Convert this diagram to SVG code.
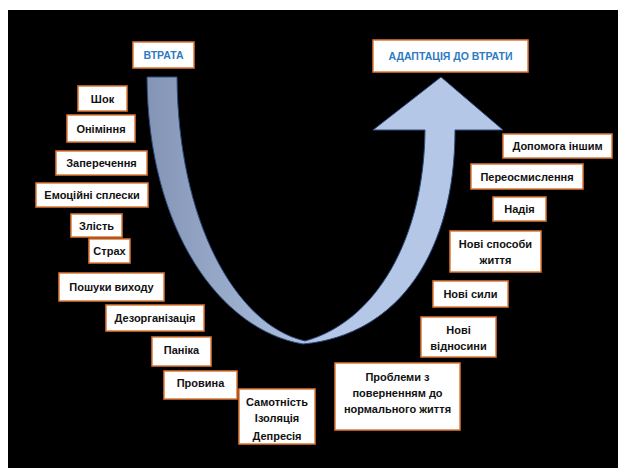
<svg xmlns="http://www.w3.org/2000/svg" width="618" height="468" viewBox="0 0 618 468">
<defs>
<linearGradient id="band" gradientUnits="userSpaceOnUse" x1="147" y1="0" x2="330" y2="0">
<stop offset="0" stop-color="#8394B4"/>
<stop offset="1" stop-color="#B4C7E7"/>
</linearGradient>
</defs>
<style>
.box{fill:#FFFFFF;stroke:#E07A36;stroke-width:1.5}
.t{font-family:"Liberation Sans",Arial,sans-serif;font-weight:bold;font-size:11px;fill:#111111;text-anchor:middle}
.h{font-family:"Liberation Sans",Arial,sans-serif;font-weight:bold;font-size:10.5px;fill:#2E7BC4;text-anchor:middle}
</style>
<rect x="0" y="0" width="618" height="468" fill="#FFFFFF"/>
<rect x="8" y="10" width="610" height="458" fill="#000000"/>
<g id="connectors">
<path d="M147,77 C148,230 220,330 303,344 C400,335 455,250 455,130 L503,130 L441,77 L373,130 L425,130 C424,240 375,322 305,341 C235,325 178,220 177,77 Z" fill="url(#band)" stroke="#2E4A7D" stroke-width="1"/>
</g>
<g id="n-vtrata"><rect class="box" x="133" y="42" width="61" height="26"/><text class="h" x="163.5" y="59">ВТРАТА</text></g>
<g id="n-adapt"><rect class="box" x="373" y="40" width="155" height="32"/><text class="h" x="450.5" y="60">АДАПТАЦІЯ ДО ВТРАТИ</text></g>
<g id="n-shok"><rect class="box" x="78" y="86" width="49" height="25"/><text class="t" x="102.5" y="102.5">Шок</text></g>
<g id="n-onim"><rect class="box" x="67" y="115" width="68" height="27"/><text class="t" x="101" y="132.5">Оніміння</text></g>
<g id="n-zaper"><rect class="box" x="56" y="151" width="91" height="24"/><text class="t" x="101.5" y="167">Заперечення</text></g>
<g id="n-emoc"><rect class="box" x="36" y="183" width="112" height="24"/><text class="t" x="92" y="199">Емоційні сплески</text></g>
<g id="n-zlist"><rect class="box" x="71" y="214" width="51" height="23"/><text class="t" x="96.5" y="229.5">Злість</text></g>
<g id="n-strah"><rect class="box" x="89" y="239" width="41" height="24"/><text class="t" x="109.5" y="255">Страх</text></g>
<g id="n-poshuk"><rect class="box" x="59" y="273" width="105" height="28"/><text class="t" x="111.5" y="291">Пошуки виходу</text></g>
<g id="n-dezorg"><rect class="box" x="106" y="305" width="98" height="26"/><text class="t" x="155" y="322">Дезорганізація</text></g>
<g id="n-panika"><rect class="box" x="152" y="337" width="59" height="29"/><text class="t" x="181.5" y="354">Паніка</text></g>
<g id="n-provyna"><rect class="box" x="164" y="371" width="73" height="28"/><text class="t" x="200.5" y="387">Провина</text></g>
<g id="n-samot"><rect class="box" x="239" y="389" width="76" height="55"/><text class="t" x="277" y="406">Самотність</text><text class="t" x="277" y="422">Ізоляція</text><text class="t" x="277" y="440">Депресія</text></g>
<g id="n-dopomoga"><rect class="box" x="503" y="134" width="109" height="24"/><text class="t" x="557.5" y="150">Допомога іншим</text></g>
<g id="n-pereos"><rect class="box" x="471" y="164" width="112" height="25"/><text class="t" x="527" y="180.5">Переосмислення</text></g>
<g id="n-nadiya"><rect class="box" x="493" y="197" width="53" height="24"/><text class="t" x="519.5" y="213">Надія</text></g>
<g id="n-sposoby"><rect class="box" x="450" y="231" width="91" height="41"/><text class="t" x="495.5" y="248">Нові способи</text><text class="t" x="495.5" y="264">життя</text></g>
<g id="n-syly"><rect class="box" x="433" y="281" width="75" height="26"/><text class="t" x="470.5" y="298">Нові сили</text></g>
<g id="n-vidnos"><rect class="box" x="421" y="317" width="75" height="40"/><text class="t" x="458.5" y="334">Нові</text><text class="t" x="458.5" y="350">відносини</text></g>
<g id="n-problemy"><rect class="box" x="335" y="363" width="125" height="67"/><text class="t" x="397.5" y="381">Проблеми з</text><text class="t" x="397.5" y="397">поверненням до</text><text class="t" x="397.5" y="413">нормального життя</text></g>
</svg>
